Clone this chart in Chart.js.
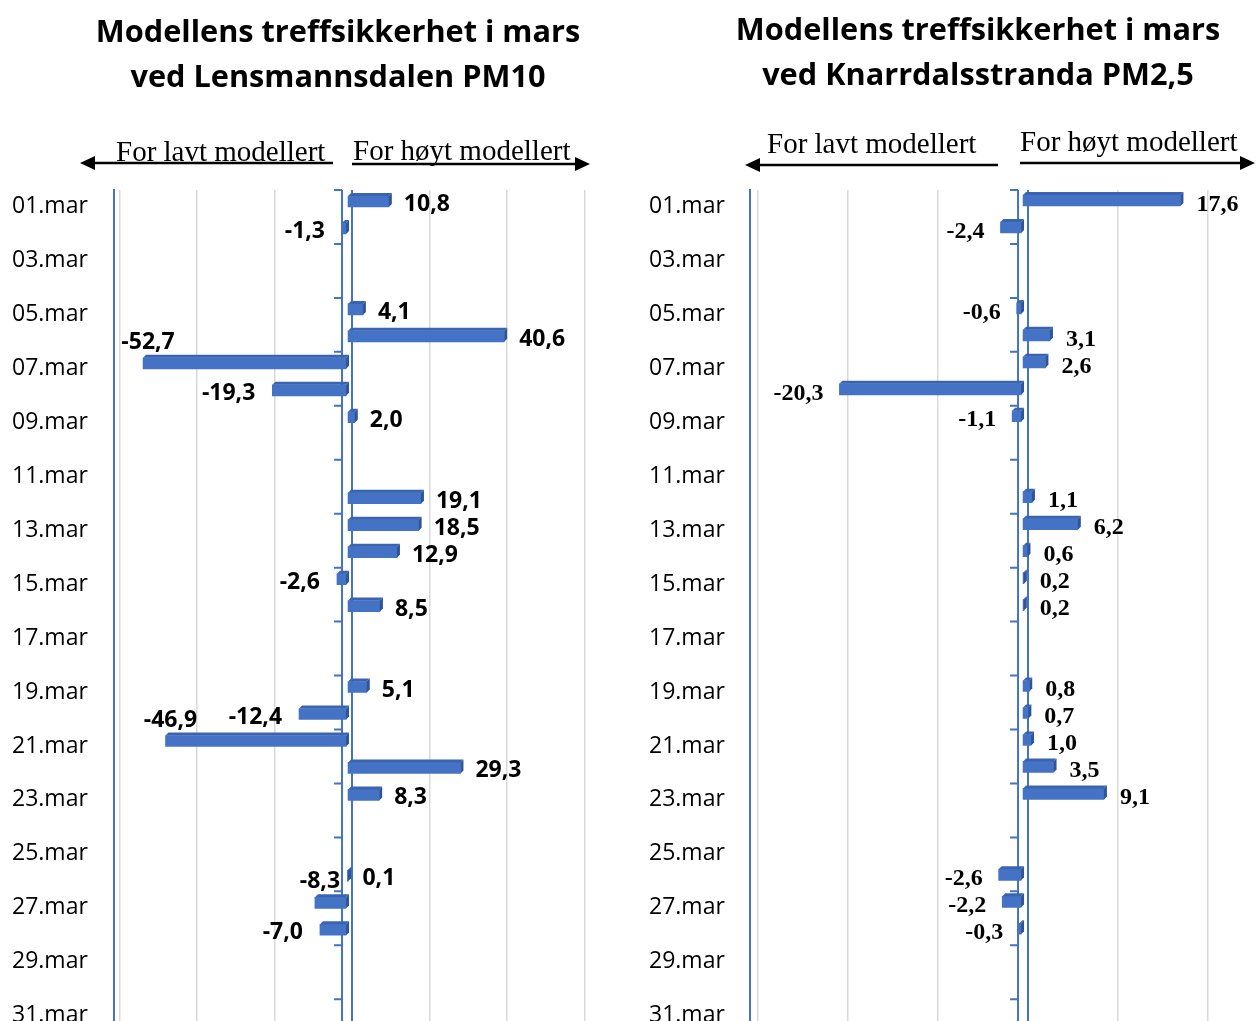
<!DOCTYPE html>
<html>
<head>
<meta charset="utf-8">
<script src="https://cdn.jsdelivr.net/npm/chart.js@4.4.0/dist/chart.umd.min.js"></script>
<style>
  html, body { margin: 0; padding: 0; background: #fff; overflow: hidden; width: 1256px; height: 1021px; }
  canvas { position: absolute; top: 0; }
  #leftChart { left: 0; }
  #rightChart { left: 630px; }
</style>
</head>
<body>
<canvas id="leftChart" width="620" height="1040"></canvas>
<canvas id="rightChart" width="640" height="1040"></canvas>
<script>
// Categories (days of March)
const days = [
  "01.mar", "02.mar", "03.mar", "04.mar", "05.mar", "06.mar", "07.mar", "08.mar",
  "09.mar", "10.mar", "11.mar", "12.mar", "13.mar", "14.mar", "15.mar", "16.mar",
  "17.mar", "18.mar", "19.mar", "20.mar", "21.mar", "22.mar", "23.mar", "24.mar",
  "25.mar", "26.mar", "27.mar", "28.mar", "29.mar", "30.mar", "31.mar"
];

// Lensmannsdalen PM10 - model deviation
const lensmannsdalen = [
  10.8, -1.3, null, null, 4.1, 40.6, -52.7, -19.3, 2.0, null, null, 19.1, 18.5, 12.9, -2.6, 8.5,
  null, null, 5.1, -12.4, -46.9, 29.3, 8.3, null, null, 0.1, -8.3, -7.0, null, null, null
];

// Knarrdalsstranda PM2,5 - model deviation
const knarrdalsstranda = [
  17.6, -2.4, null, null, -0.6, 3.1, 2.6, -20.3, -1.1, null, null, 1.1, 6.2, 0.6, 0.2, 0.2,
  null, null, 0.8, 0.7, 1.0, 3.5, 9.1, null, null, -2.6, -2.2, -0.3, null, null, null
];

// labels that sit above the bar instead of beside it (left chart)
const leftLabelsAbove = [6, 20, 26];

const blue = "#4472C4";
const blueSide = "#2F5597";
const blueTop = "#3A64B0";
const gridGrey = "#D9D9D9";

function fmt(v) {
  return v.toFixed(1).replace(".", ",");
}

function arrow(ctx, x1, x2, y, dir) {
  ctx.strokeStyle = "#000";
  ctx.fillStyle = "#000";
  ctx.lineWidth = 2.5;
  ctx.beginPath();
  if (dir < 0) {
    ctx.moveTo(x1 + 12, y); ctx.lineTo(x2, y);
  } else {
    ctx.moveTo(x1, y); ctx.lineTo(x2 - 12, y);
  }
  ctx.stroke();
  const tip = dir < 0 ? x1 : x2;
  ctx.beginPath();
  ctx.moveTo(tip, y);
  ctx.lineTo(tip - dir * 15, y - 7);
  ctx.lineTo(tip - dir * 15, y + 7);
  ctx.closePath();
  ctx.fill();
}

function buildChart(id, values, cfg) {
  const off = cfg.offset;

  const decor = {
    id: "decor",
    beforeDatasetsDraw(chart) {
      const ctx = chart.ctx;
      const xs = chart.scales.x;
      const area = chart.chartArea;
      // category axis line with tick marks
      const ax = xs.getPixelForValue(0) - 10;
      const step = (area.bottom - area.top) / days.length;
      ctx.save();
      ctx.strokeStyle = blue;
      ctx.lineWidth = 2;
      ctx.beginPath();
      ctx.moveTo(ax, area.top);
      ctx.lineTo(ax, area.bottom);
      for (let i = 0; i <= days.length; i += 2) {
        const ty = area.top + i * step;
        ctx.moveTo(ax - 8, ty);
        ctx.lineTo(ax, ty);
      }
      ctx.stroke();
      ctx.restore();
      // fake 3D depth: bars sit a little in front
      ctx.save();
      ctx.translate(cfg.shift[0], cfg.shift[1]);
    },
    afterDatasetsDraw(chart) {
      const ctx = chart.ctx;
      const meta = chart.getDatasetMeta(0);
      meta.data.forEach((bar, i) => {
        if (values[i] === null) return;
        const p = bar.getProps(["x", "y", "base", "height"], true);
        const top = p.y - p.height / 2, bot = p.y + p.height / 2;
        const l = Math.min(p.x, p.base), r = Math.max(p.x, p.base);
        const d = 3;
        ctx.fillStyle = blueTop;
        ctx.beginPath();
        ctx.moveTo(l, top); ctx.lineTo(l + d, top - d); ctx.lineTo(r + d, top - d); ctx.lineTo(r, top);
        ctx.closePath(); ctx.fill();
        ctx.fillStyle = blueSide;
        ctx.beginPath();
        ctx.moveTo(r, top); ctx.lineTo(r + d, top - d); ctx.lineTo(r + d, bot - d); ctx.lineTo(r, bot);
        ctx.closePath(); ctx.fill();
      });
      ctx.restore();
    },
    afterDraw(chart) {
      const ctx = chart.ctx;
      const xs = chart.scales.x;
      const meta = chart.getDatasetMeta(0);
      ctx.save();
      // value labels
      ctx.fillStyle = "#000";
      ctx.font = cfg.labelFont;
      ctx.textBaseline = "middle";
      meta.data.forEach((bar, i) => {
        const v = values[i];
        if (v === null) return;
        const end = xs.getPixelForValue(v);
        if (cfg.above.includes(i)) {
          ctx.textAlign = "center";
          ctx.fillText(fmt(v), end, bar.y - 23);
        } else if (v >= 0) {
          ctx.textAlign = "left";
          ctx.fillText(fmt(v), end + 10, bar.y + 1);
        } else {
          ctx.textAlign = "right";
          ctx.fillText(fmt(v), end - 22, bar.y + 1);
        }
      });
      // title
      ctx.font = "bold 30.7px 'Open Sans'";
      ctx.textAlign = "center";
      ctx.fillText(cfg.title[0], cfg.titleX - off, cfg.titleY[0]);
      ctx.fillText(cfg.title[1], cfg.titleX - off, cfg.titleY[1]);
      // direction captions with arrows
      ctx.font = "29px 'Liberation Serif'";
      ctx.textAlign = "left";
      ctx.textBaseline = "alphabetic";
      const lo = cfg.low, hi = cfg.high;
      ctx.fillText("For lavt modellert", lo.tx - off, lo.ty);
      ctx.fillText("For høyt modellert", hi.tx - off, hi.ty);
      arrow(ctx, lo.x1 - off, lo.x2 - off, lo.y, -1);
      arrow(ctx, hi.x1 - off, hi.x2 - off, hi.y, 1);
      ctx.restore();
    }
  };

  return new Chart(document.getElementById(id), {
    type: "bar",
    data: {
      labels: days,
      datasets: [{
        data: values,
        backgroundColor: blue,
        barThickness: 11
      }]
    },
    options: {
      responsive: false,
      animation: false,
      indexAxis: "y",
      layout: { padding: { left: cfg.padLeft, right: cfg.padRight, top: 190, bottom: 12 } },
      plugins: {
        legend: { display: false },
        tooltip: { enabled: false },
        title: { display: false }
      },
      scales: {
        x: {
          min: cfg.min,
          max: cfg.max,
          ticks: { display: false, stepSize: cfg.step, includeBounds: false },
          grid: {
            drawTicks: false,
            color: c => c.tick && c.tick.value === 0 ? blue : gridGrey,
            lineWidth: c => c.tick && c.tick.value === 0 ? 2 : 1.5
          },
          border: { display: false }
        },
        y: {
          ticks: {
            autoSkip: false,
            crossAlign: "far",
            padding: 0,
            labelOffset: 3,
            color: "#000",
            font: { family: "Open Sans", size: 23 },
            callback: (v, i) => (i % 2 === 0 ? days[i] : "")
          },
          grid: { display: false, drawTicks: false },
          border: { color: blue, width: 2 },
          afterFit: s => { s.width = cfg.axisWidth; }
        }
      }
    },
    plugins: [decor]
  });
}

buildChart("leftChart", lensmannsdalen, {
  offset: 0,
  padLeft: 12, axisWidth: 102, padRight: 28,
  min: -61.5, max: 62, step: 20,
  shift: [-5, -2],
  above: leftLabelsAbove,
  labelFont: "bold 23px 'Open Sans'",
  title: ["Modellens treffsikkerhet i mars", "ved Lensmannsdalen PM10"],
  titleX: 338, titleY: [33, 78],
  low: { tx: 116, ty: 161, x1: 80, x2: 333, y: 163 },
  high: { tx: 353, ty: 160, x1: 352, x2: 590, y: 164 }
});

buildChart("rightChart", knarrdalsstranda, {
  offset: 630,
  padLeft: 19, axisWidth: 101, padRight: 8,
  min: -30.9, max: 26, step: 10,
  shift: [-6, -3],
  above: [],
  labelFont: "bold 24px 'Liberation Serif'",
  title: ["Modellens treffsikkerhet i mars", "ved Knarrdalsstranda PM2,5"],
  titleX: 978, titleY: [31, 76],
  low: { tx: 767, ty: 153, x1: 745, x2: 998, y: 165 },
  high: { tx: 1020, ty: 151, x1: 1020, x2: 1255, y: 163 }
});
</script>
</body>
</html>
